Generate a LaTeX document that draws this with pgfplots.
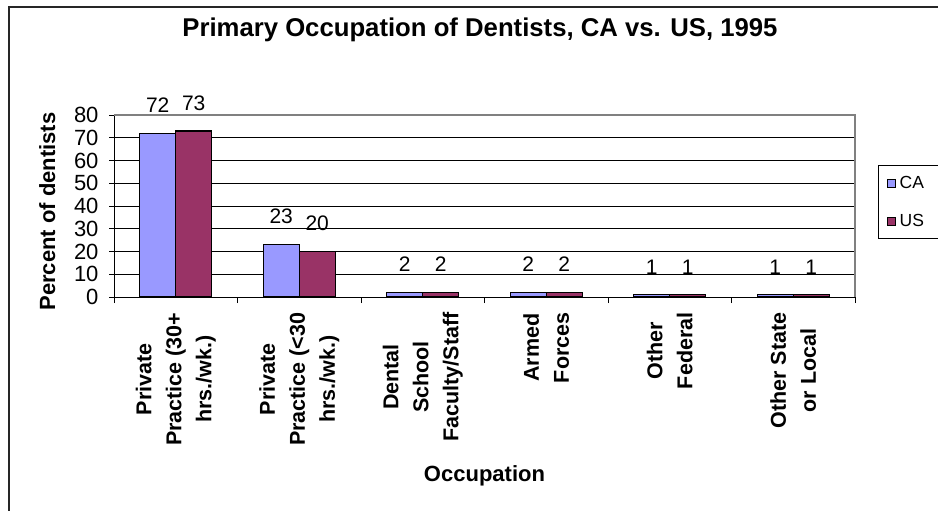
\documentclass[border=0pt]{standalone}
\usepackage{pgfplots}
\pgfplotsset{compat=1.18}
\usepackage{fontspec}
\setmainfont{Liberation Sans}
\definecolor{cacol}{HTML}{9999FF}
\definecolor{uscol}{HTML}{993366}
\begin{document}
\begin{tikzpicture}
\begin{axis}[
  at={(114bp,-297bp)}, anchor=south west,
  scale only axis, width=741bp, height=182bp,
  xmin=-0.5, xmax=5.5, ymin=0, ymax=80,
  ybar=0pt, bar width=36bp,
  axis x line*=bottom, axis y line*=left,
  axis line style={black, line width=1bp},
  ytick={0,10,...,80},
  xtick={0,...,5},
  minor xtick={-0.5,0.5,...,5.5},
  ymajorgrids, major grid style={black, line width=0.8bp},
  tick align=outside,
  major tick length=5bp, minor tick length=6bp,
  tick style={black, line width=0.8bp},
  major x tick style={draw=none},
  /pgf/number format/assume math mode=true,
  yticklabel style={font=\fontsize{22bp}{26bp}\selectfont, xshift=-7bp},
  xticklabels={{Private\\Practice (30+\\hrs./wk.)},{Private\\Practice (<30\\hrs./wk.)},{Dental\\School\\Faculty/Staff},{Armed\\Forces},{Other\\Federal},{Other State\\or Local}},
  xticklabel shift=7bp,
  xticklabel style={rotate=90, anchor=east, align=center, font=\bfseries\fontsize{21.5bp}{30bp}\selectfont},
  xlabel={Occupation},
  xlabel style={at={(axis description cs:0.5,-1.015)}, anchor=base, font=\bfseries\fontsize{22bp}{26bp}\selectfont},
  ylabel={Percent of dentists},
  ylabel style={at={(axis description cs:-0.0796,0.4698)}, anchor=base, rotate=0, font=\bfseries\fontsize{22bp}{26bp}\selectfont},
  title={Primary Occupation of Dentists, CA vs. US, 1995},
  title style={at={(axis description cs:0.4939,1.3995)}, anchor=base, yshift=0pt, font=\bfseries\fontsize{25.7bp}{30bp}\selectfont},
  nodes near coords,
  every node near coord/.append style={font=\fontsize{21bp}{24bp}\selectfont, black, yshift=16.7bp},
  legend style={at={(axis description cs:1.031,0.725)}, anchor=north west, draw=black, line width=0.8bp,
    font=\fontsize{17.5bp}{20bp}\selectfont, row sep=20bp, inner xsep=8.5bp, inner ysep=9bp},
  legend cell align=left,
]
\addplot[fill=cacol, draw=black, line width=1.2bp,
  legend image code/.code={\draw[fill=cacol,draw=black,line width=0.8bp] (0bp,-4bp) rectangle (8bp,4bp);}]
  coordinates {(0,72) (1,23) (2,2) (3,2) (4,1) (5,1)};
\addplot[fill=uscol, draw=black, line width=1.2bp,
  legend image code/.code={\draw[fill=uscol,draw=black,line width=0.8bp] (0bp,-4bp) rectangle (8bp,4bp);}]
  coordinates {(0,73) (1,20) (2,2) (3,2) (4,1) (5,1)};
\legend{{\kern2bp CA\rule{150bp}{0pt}},{\kern2bp US\rule{150bp}{0pt}}}
\end{axis}
\draw[gray, line width=1.2bp] (114bp,-115bp) -- (855bp,-115bp) -- (855bp,-297bp);
\draw[black!85, line width=1.5bp] (9bp,-530bp) |- (1100bp,-7bp);
\pgfresetboundingbox
\useasboundingbox (0bp,0bp) rectangle (938bp,-511bp);
\end{tikzpicture}
\end{document}
